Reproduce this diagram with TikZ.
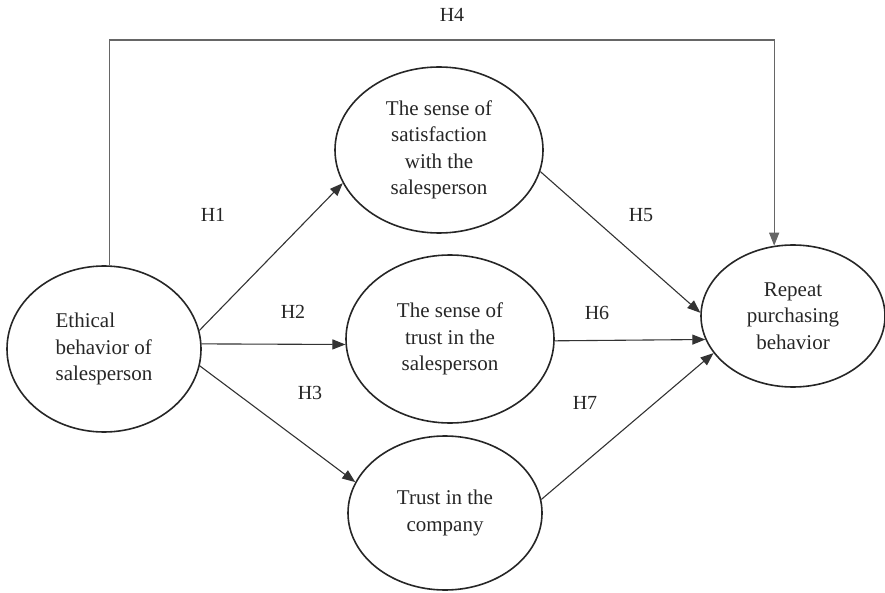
\documentclass[tikz,border=0pt]{standalone}
\usepackage{fontspec}
\setmainfont{Liberation Serif}
\usetikzlibrary{shapes.geometric,arrows.meta}
\begin{document}
\begin{tikzpicture}[x=1pt,y=-1pt,
  blob/.style={ellipse,draw=black!85,line width=1.6pt,inner sep=0pt,align=center,text=black!85,font=\fontsize{21}{26.5}\selectfont},
  conn/.style={draw=black!80,line width=1.1pt,-{Triangle[length=13pt,width=10pt]}},
  topconn/.style={conn,draw=black!60},
  hyp/.style={text=black!85,font=\fontsize{20}{24}\selectfont,inner sep=0pt}]
\useasboundingbox (0,0) rectangle (885,593);
\node[blob,minimum width=194pt,minimum height=166pt,align=left] (eth) at (104,349) {Ethical\\behavior of\\salesperson};
\node[blob,minimum width=208pt,minimum height=166pt] (sat) at (439,150) {The sense of\\satisfaction\\with the\\salesperson};
\node[blob,minimum width=208pt,minimum height=168pt] (tsp) at (450,339) {The sense of\\trust in the\\salesperson};
\node[blob,minimum width=194pt,minimum height=154pt] (tc) at (445,513) {Trust in the\\company};
\node[blob,minimum width=184pt,minimum height=142pt] (rep) at (793,316) {Repeat\\purchasing\\behavior};
\coordinate (h4) at (450,40);
\draw[topconn] (eth.86) |- (h4) -| (rep.105);
\draw[conn] (eth.11) -- (sat.199.5);
\draw[conn] (eth.3) -- (tsp.183);
\draw[conn] (eth.-10.5) -- (tc.161);
\draw[conn] (sat.-12) -- (rep.178);
\draw[conn] (tsp.-1) -- (rep.195);
\draw[conn] (tc.8.6) -- (rep.205);
\node[hyp] (l4) at (452,15) {H4};
\node[hyp] (l1) at (213,215) {H1};
\node[hyp] (l2) at (293,312) {H2};
\node[hyp] (l3) at (310,393) {H3};
\node[hyp] (l5) at (641,215) {H5};
\node[hyp] (l6) at (597,313) {H6};
\node[hyp] (l7) at (585,403) {H7};
\end{tikzpicture}
\end{document}
